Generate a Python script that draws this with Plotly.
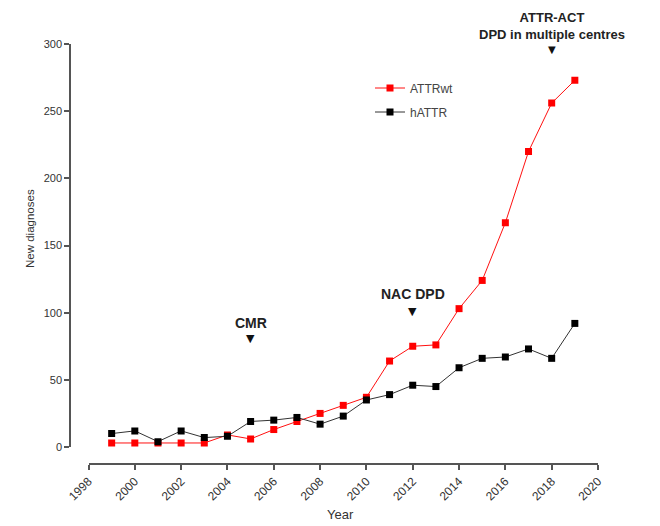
import plotly.graph_objects as go

years = list(range(1999, 2020))
attrwt = [3, 3, 3, 3, 3, 9, 6, 13, 19, 25, 31, 37, 64, 75, 76, 103, 124, 167, 220, 256, 273]
hattr = [10, 12, 4, 12, 7, 8, 19, 20, 22, 17, 23, 35, 39, 46, 45, 59, 66, 67, 73, 66, 92]

x_ticks = list(range(1998, 2021, 2))
y_ticks = list(range(0, 301, 50))

events = [
    {"year": 2005, "label": "CMR", "text_y": 92, "arrow_y": 81},
    {"year": 2012, "label": "NAC DPD", "text_y": 114, "arrow_y": 101},
]
top_year = 2018
top_label = "ATTR-ACT<br>DPD in multiple centres"

FONT = "Liberation Sans, Arial, sans-serif"
AXIS_COL = "#555555"
TXT_COL = "#333333"

# page body has an 8px margin; figure sized to fit the 660x526 window
W, H = 652, 518
L, R, T, B = 62, 62, 36, 62
pw = W - L - R
ph = H - T - B


def px(p):  # reference pixel x -> paper x
    return (p - 70) / pw


def py(p):  # reference pixel y -> paper y
    return (464 - p) / ph


fig = go.Figure()
fig.add_trace(go.Scatter(
    x=years, y=attrwt, name="ATTRwt", mode="lines+markers",
    line=dict(color="#ff1010", width=1),
    marker=dict(symbol="square", size=7, color="#ff0000"),
    legend="legend",
))
fig.add_trace(go.Scatter(
    x=years, y=hattr, name="hATTR", mode="lines+markers",
    line=dict(color="#333333", width=1),
    marker=dict(symbol="square", size=7, color="#000000"),
    legend="legend2",
))

annotations = []
for ev in events:
    annotations.append(dict(
        x=ev["year"], y=ev["text_y"], xref="x", yref="y", text="<b>" + ev["label"] + "</b>",
        showarrow=False, font=dict(family=FONT, size=14, color="#222222"),
        yanchor="middle", xanchor="center",
    ))
    annotations.append(dict(
        x=ev["year"], y=ev["arrow_y"], xref="x", yref="y", text="▼",
        showarrow=False, font=dict(family="DejaVu Sans", size=11, color="#111111"),
        yanchor="middle", xanchor="center",
    ))

annotations.append(dict(
    x=top_year, y=py(26), xref="x", yref="paper",
    text="<b>" + top_label + "</b>",
    showarrow=False, font=dict(family=FONT, size=13, color="#222222"),
    yanchor="middle", xanchor="center",
))
annotations.append(dict(
    x=top_year, y=py(50), xref="x", yref="paper", text="▼",
    showarrow=False, font=dict(family="DejaVu Sans", size=10, color="#111111"),
    yanchor="middle", xanchor="center",
))

# axis titles
annotations.append(dict(
    x=px(30), y=py(229), xref="paper", yref="paper", text="New diagnoses",
    textangle=-90, showarrow=False, font=dict(family=FONT, size=11.5, color=TXT_COL),
    xanchor="center", yanchor="middle",
))
annotations.append(dict(
    x=px(340), y=py(514), xref="paper", yref="paper", text="Year",
    showarrow=False, font=dict(family=FONT, size=13, color=TXT_COL),
    xanchor="center", yanchor="middle",
))

fig.update_layout(
    width=W, height=H,
    margin=dict(l=L, r=R, t=T, b=B, autoexpand=False),
    paper_bgcolor="white", plot_bgcolor="white",
    font=dict(family=FONT, color=TXT_COL, size=9),
    xaxis=dict(
        domain=[px(88.5), 1], range=[1998, 2020],
        anchor="free", position=0, automargin=False,
        tickvals=x_ticks, ticktext=[str(v) for v in x_ticks], tickangle=-45,
        ticks="outside", ticklen=5, tickcolor=AXIS_COL, tickwidth=1.5,
        showline=True, linecolor=AXIS_COL, linewidth=1.5,
        showgrid=False, zeroline=False,
        tickfont=dict(family=FONT, size=12, color=TXT_COL),
    ),
    yaxis=dict(
        domain=[py(447), 1], range=[0, 300],
        anchor="free", position=0, automargin=False,
        tickvals=y_ticks, ticks="outside", ticklen=5, tickcolor=AXIS_COL, tickwidth=1.5,
        showline=True, linecolor=AXIS_COL, linewidth=1.5,
        showgrid=False, zeroline=False,
        tickfont=dict(family=FONT, size=11, color=TXT_COL),
    ),
    legend=dict(
        x=px(370), y=py(88), xanchor="left", yanchor="middle",
        itemwidth=30, font=dict(family=FONT, size=12, color="#444444"),
        bgcolor="rgba(0,0,0,0)",
    ),
    legend2=dict(
        x=px(370), y=py(112), xanchor="left", yanchor="middle",
        itemwidth=30, font=dict(family=FONT, size=12, color="#444444"),
        bgcolor="rgba(0,0,0,0)",
    ),
    annotations=annotations,
    showlegend=True,
)

fig.write_html("out.html")
